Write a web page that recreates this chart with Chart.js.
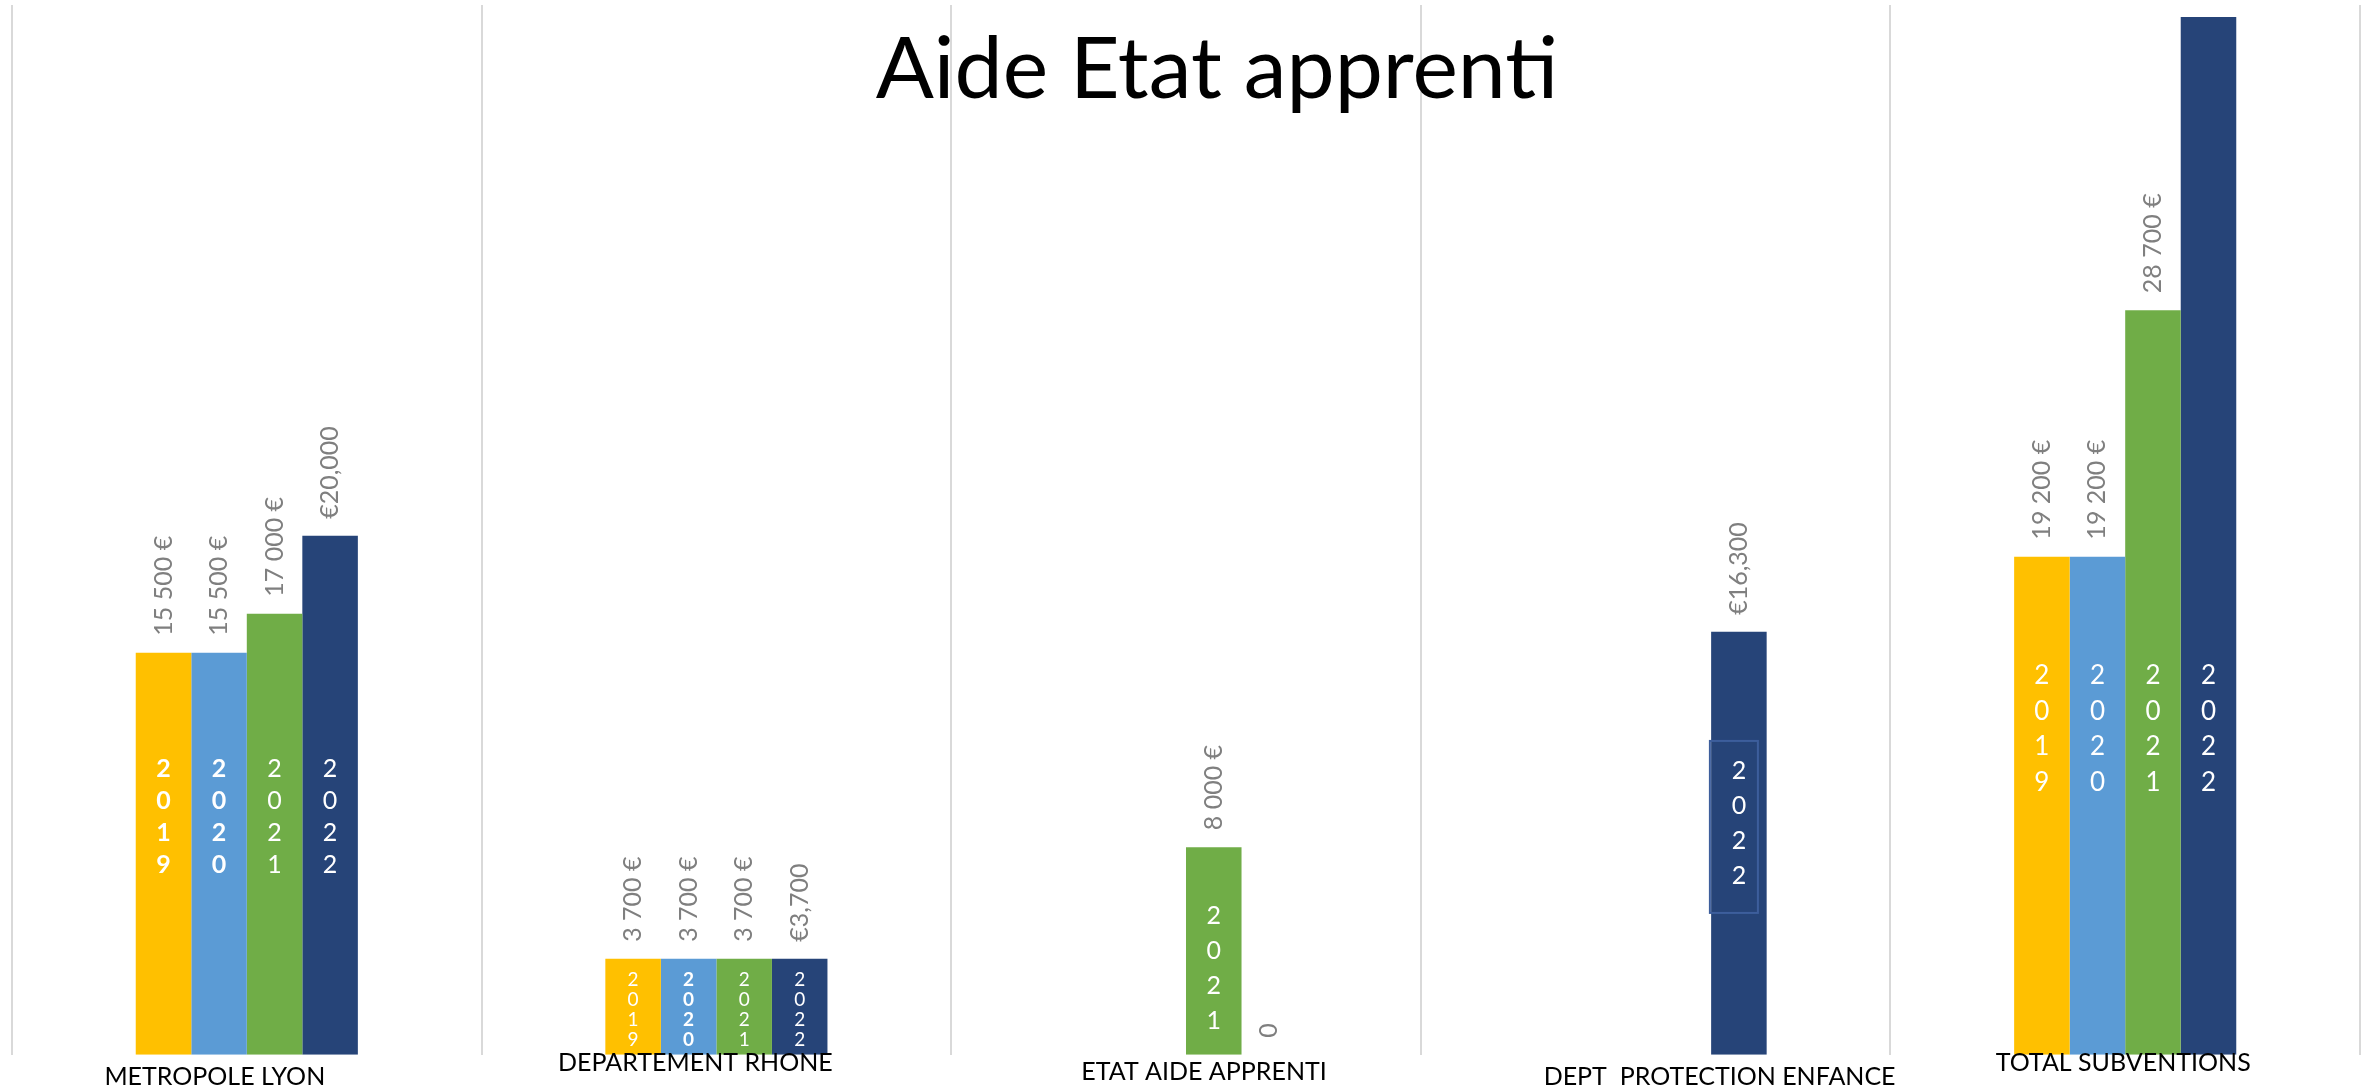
<!DOCTYPE html>
<html>
<head>
<meta charset="utf-8">
<script src="https://cdn.jsdelivr.net/npm/chart.js@4.4.1/dist/chart.umd.min.js"></script>
<style>
  html, body { margin: 0; padding: 0; background: #fff; overflow: hidden; }
  #wrap { width: 2371px; height: 1090px; }
</style>
</head>
<body>
<div id="wrap"><canvas id="chart" width="2371" height="1090"></canvas></div>
<script>
const titleText = 'Aide Etat apprenti';
const categories = ['METROPOLE LYON', 'DEPARTEMENT RHONE', 'ETAT AIDE APPRENTI', 'DEPT  PROTECTION ENFANCE', 'TOTAL SUBVENTIONS'];
const years = ['2019', '2020', '2021', '2022'];

const values2019 = [15500, 3700, null, null, 19200];
const values2020 = [15500, 3700, null, null, 19200];
const values2021 = [17000, 3700, 8000, null, 28700];
const values2022 = [20000, 3700, 0, 16300, 40000];

// how each value label is written in the original sheet
const formats2019 = ['fr', 'fr', null, null, 'fr'];
const formats2020 = ['fr', 'fr', null, null, 'fr'];
const formats2021 = ['fr', 'fr', 'fr', null, 'fr'];
const formats2022 = ['us', 'us', 'plain', 'us', 'us'];

const colors = ['#FFC000', '#5B9BD5', '#70AD47', '#264478'];

function groupDigits(v, sep) {
    return String(v).replace(/\B(?=(\d{3})+(?!\d))/g, sep);
}
function formatValue(v, fmt) {
    if (fmt === 'fr') return groupDigits(v, ' ') + ' €';
    if (fmt === 'us') return '€' + groupDigits(v, ',');
    return String(v);
}

const allValues = [values2019, values2020, values2021, values2022];
const allFormats = [formats2019, formats2020, formats2021, formats2022];

// rotated value labels above each bar
const valueLabels = {
    id: 'valueLabels',
    afterDatasetsDraw(chart, args, opts) {
        const ctx = chart.ctx;
        ctx.save();
        ctx.fillStyle = opts.color;
        ctx.font = opts.font;
        ctx.textAlign = 'left';
        ctx.textBaseline = 'middle';
        chart.data.datasets.forEach((ds, di) => {
            const meta = chart.getDatasetMeta(di);
            meta.data.forEach((bar, i) => {
                const v = ds.data[i];
                if (v === null || v === undefined) return;
                ctx.save();
                ctx.translate(bar.x, bar.y - opts.offset);
                ctx.rotate(-Math.PI / 2);
                ctx.fillText(formatValue(v, allFormats[di][i]), 0, 0);
                ctx.restore();
            });
        });
        ctx.restore();
    }
};

// year written vertically inside the bars
const yearLabels = {
    id: 'yearLabels',
    afterDatasetsDraw(chart, args, opts) {
        const ctx = chart.ctx;
        const yScale = chart.scales.y;
        ctx.save();
        ctx.fillStyle = '#ffffff';
        ctx.textAlign = 'center';
        ctx.textBaseline = 'middle';
        chart.data.datasets.forEach((ds, di) => {
            const meta = chart.getDatasetMeta(di);
            meta.data.forEach((bar, i) => {
                const v = ds.data[i];
                if (!v) return;
                const cy = yScale.getPixelForValue(opts.anchors[i]);
                const step = opts.steps[i];
                const bold = opts.bold[i][di];
                ctx.font = (bold ? 'bold ' : '') + opts.sizes[i] + 'px Lato, "Open Sans", sans-serif';
                const digits = ds.label.split('');
                digits.forEach((d, k) => {
                    ctx.fillText(d, bar.x, cy + (k - (digits.length - 1) / 2) * step);
                });
                if (opts.boxed[i]) {
                    ctx.strokeStyle = '#3D5E9C';
                    ctx.lineWidth = 2;
                    ctx.strokeRect(bar.x - 29, cy - 83, 48, 172);
                }
            });
        });
        ctx.restore();
    }
};

// category names: placed from the x scale, each nudged like the hand-placed boxes of the original
const categoryLabels = {
    id: 'categoryLabels',
    afterDraw(chart, args, opts) {
        const ctx = chart.ctx;
        const xScale = chart.scales.x;
        const base = chart.chartArea.bottom + opts.gap;
        ctx.save();
        ctx.fillStyle = '#000';
        ctx.font = opts.font;
        ctx.textAlign = 'center';
        ctx.textBaseline = 'middle';
        chart.data.labels.forEach((lab, i) => {
            ctx.fillText(lab, xScale.getPixelForValue(i) + opts.dx[i], base + opts.dy[i]);
        });
        ctx.restore();
    }
};

const titleOverlay = {
    id: 'titleOverlay',
    afterDraw(chart) {
        const ctx = chart.ctx;
        const area = chart.chartArea;
        ctx.save();
        ctx.fillStyle = '#000';
        ctx.font = '86px Lato, "Open Sans", sans-serif';
        ctx.textAlign = 'center';
        ctx.textBaseline = 'alphabetic';
        ctx.fillText(titleText, (area.left + area.right) / 2 + 31, 98);
        ctx.restore();
    }
};

new Chart(document.getElementById('chart'), {
    type: 'bar',
    data: {
        labels: categories,
        datasets: years.map((y, i) => ({
            label: y,
            data: allValues[i],
            backgroundColor: colors[i],
            borderWidth: 0,
            categoryPercentage: 0.473,
            barPercentage: 1
        }))
    },
    options: {
        responsive: false,
        devicePixelRatio: 1,
        animation: false,
        layout: { padding: { left: 12, right: 11, top: 5, bottom: 4 } },
        plugins: {
            legend: { display: false },
            tooltip: { enabled: false },
            title: { display: false },
            valueLabels: { color: '#7f7f7f', font: '25px Lato, "Open Sans", sans-serif', offset: 17 },
            yearLabels: {
                anchors: [9165, 1727, 3345, 8898, 12557],
                sizes: [25, 19, 25, 25, 26],
                steps: [32, 20, 35, 35, 35.5],
                boxed: [false, false, false, true, false],
                bold: [
                    [true, true, false, false],
                    [false, true, false, false],
                    [false, false, false, false],
                    [false, false, false, false],
                    [false, false, false, false]
                ]
            },
            categoryLabels: {
                font: '25px Lato, "Open Sans", sans-serif',
                gap: 15,
                dx: [-32, -21, 18, 64, -2],
                dy: [7, -7, 2, 7, -7]
            }
        },
        scales: {
            x: {
                grid: { offset: true, color: '#d9d9d9', lineWidth: 2, drawTicks: false },
                border: { display: false },
                ticks: {
                    color: 'rgba(0,0,0,0)',
                    font: { family: 'Lato, "Open Sans", sans-serif', size: 26, lineHeight: 1.2 },
                    padding: 0,
                    maxRotation: 0,
                    autoSkip: false
                }
            },
            y: {
                display: false,
                min: 0,
                max: 40460
            }
        }
    },
    plugins: [valueLabels, yearLabels, categoryLabels, titleOverlay]
});
</script>
</body>
</html>
